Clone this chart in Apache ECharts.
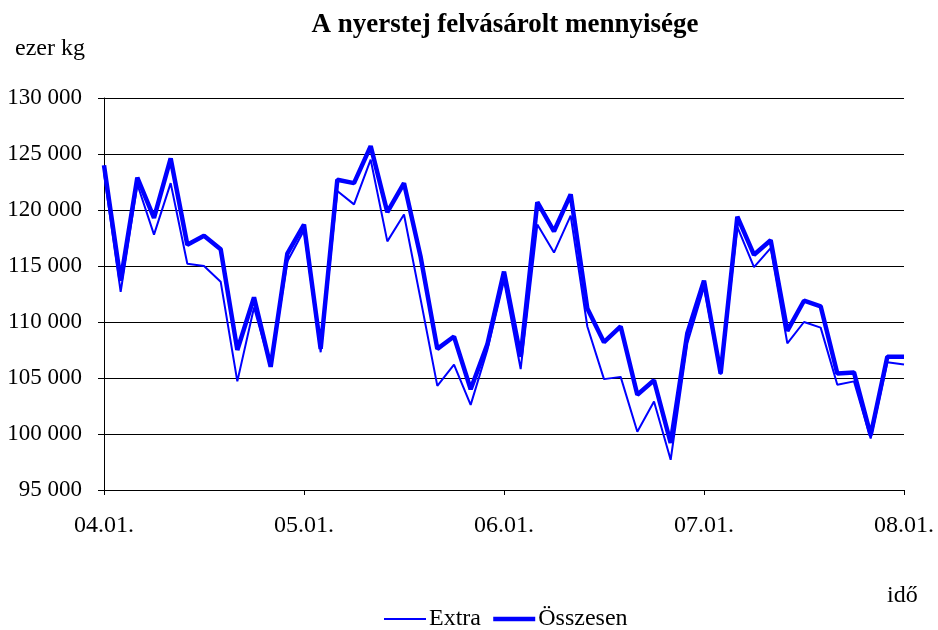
<!DOCTYPE html>
<html lang="hu" style="height: 100%">
<head>
  <meta charset="utf-8">
</head>
<body style="height: 100%; margin: 0; background: #fff">
  <div id="container" style="width: 938px; height: 630px"></div>

  <script type="text/javascript" src="https://cdn.jsdelivr.net/npm/echarts@6/dist/echarts.min.js"></script>

  <script type="text/javascript">
    var dom = document.getElementById('container');
    var myChart = echarts.init(dom, null, { renderer: 'canvas' });
    var option;

// havi adatok, 2004.01. - 2008.01.
const years = ['04', '05', '06', '07', '08'];
const extra = [
  123300, 112700, 122300, 117800, 122400, 115200, 115000, 113600, 104700, 111300, 106000, 115400,
  118200, 107300, 121700, 120500, 124500, 117200, 119600, 112000, 104300, 106200, 102600, 107500,
  113700, 105800, 118700, 116200, 119500, 109600, 104900, 105100, 100200, 102900, 97700, 108100,
  113100, 105300, 118500, 114900, 116600, 108100, 110000, 109500, 104400, 104700, 99600, 106400,
  106200
];
const osszesen = [
  124000, 113700, 122900, 119300, 124600, 116900, 117700, 116500, 107500, 112200, 106000, 116100,
  118700, 107600, 122700, 122400, 125700, 119800, 122400, 115800, 107600, 108700, 104000, 108000,
  114500, 106900, 120700, 118100, 121400, 111200, 108200, 109600, 103500, 104800, 99200, 109000,
  113700, 105400, 119400, 116000, 117300, 109200, 111900, 111400, 105400, 105500, 99900, 106900,
  106900
];

const categories = [];
years.forEach(function (y, i) {
  const last = i === years.length - 1 ? 1 : 12;
  for (let m = 1; m <= last; m++) {
    categories.push(y + '.' + (m < 10 ? '0' + m : m) + '.');
  }
});

const font = 'Liberation Serif';

option = {
  backgroundColor: '#fff',
  textStyle: { fontFamily: font },
  title: {
    text: 'A nyerstej felvásárolt mennyisége',
    left: 500,
    top: 7,
    textAlign: 'center',
    textStyle: { fontFamily: font, fontSize: 27, fontWeight: 'bold', color: '#000' }
  },
  legend: {
    top: 602,
    left: 378,
    itemWidth: 42,
    itemHeight: 14,
    itemGap: 10,
    itemStyle: { opacity: 0 },
    lineStyle: { width: 'inherit' },
    textStyle: { fontFamily: font, fontSize: 24, color: '#000', padding: [0, 0, 0, -2] },
    data: ['Extra', 'Összesen']
  },
  graphic: [
    { type: 'text', left: 15, top: 37, style: { text: 'ezer kg', font: '24px "Liberation Serif"', fill: '#000' } },
    { type: 'text', left: 887, top: 584, style: { text: 'idő', font: '24px "Liberation Serif"', fill: '#000' } }
  ],
  grid: { left: 104, right: 34, top: 98, bottom: 140, containLabel: false },
  xAxis: {
    type: 'category',
    data: categories,
    boundaryGap: false,
    axisLine: { lineStyle: { color: '#000', width: 1 } },
    axisTick: { show: true, interval: 11, length: 5, inside: false, lineStyle: { color: '#000' } },
    axisLabel: { interval: 11, margin: 24, fontSize: 24, color: '#000', fontFamily: font },
    splitLine: { show: false }
  },
  yAxis: {
    type: 'value',
    min: 95000,
    max: 130000,
    interval: 5000,
    axisLine: { show: true, lineStyle: { color: '#000', width: 1 } },
    axisTick: { show: true, length: 6, lineStyle: { color: '#000' } },
    axisLabel: {
      margin: 22,
      fontSize: 23,
      color: '#000',
      fontFamily: font,
      formatter: function (v) {
        return String(v).replace(/\B(?=(\d{3})+(?!\d))/g, ' ');
      }
    },
    splitLine: { show: true, lineStyle: { color: '#000', width: 1 } }
  },
  series: [
    {
      name: 'Extra',
      type: 'line',
      data: extra,
      symbol: 'none',
      color: '#0000ff',
      lineStyle: { color: '#0000ff', width: 2 },
      animation: false
    },
    {
      name: 'Összesen',
      type: 'line',
      data: osszesen,
      symbol: 'none',
      color: '#0000ff',
      lineStyle: { color: '#0000ff', width: 4.5 },
      animation: false
    }
  ]
};

    if (option && typeof option === 'object') {
      myChart.setOption(option);
    }

    window.addEventListener('resize', myChart.resize);
  </script>
</body>
</html>
